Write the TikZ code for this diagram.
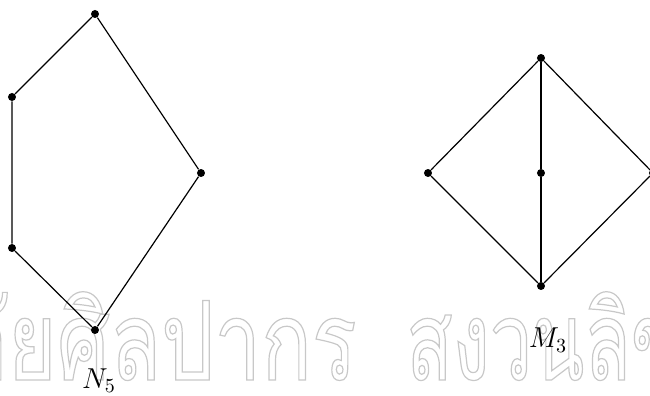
\documentclass[tikz,border=0pt]{standalone}
\usepackage{fontspec}
\newfontfamily\thaiwm[Script=Thai,FakeStretch=0.76]{Loma}
\newfontfamily\thaiwmr[Script=Thai,FakeStretch=0.69]{Loma}
\definecolor{wmgray}{RGB}{200,200,200}
\newcommand{\outlinetext}[1]{\special{pdf:literal direct 1 Tr 0.6 w}#1\special{pdf:literal direct 0 Tr}}
\begin{document}
\begin{tikzpicture}[x=0.5pt,y=-0.5pt,
  dot/.style={circle,fill=black,inner sep=0pt,minimum size=4pt},
  edge/.style={draw=black,line width=0.6pt},
  wm/.style={inner sep=0pt,text=wmgray,font=\thaiwm\fontsize{55}{55}\selectfont},
  wmr/.style={inner sep=0pt,text=wmgray,font=\thaiwmr\fontsize{55}{55}\selectfont},
  lbl/.style={inner sep=0pt,font=\fontsize{14.4}{17}\selectfont}]
\useasboundingbox (0,0) rectangle (650,396);
% watermark
\node[wm,anchor=base east] (wmL) at (357,380) {\outlinetext{มหาวิทยาลัยศิลปากร}};
\node[wmr,anchor=base west] (wmR) at (406,380) {\outlinetext{สงวนลิขสิทธิ์}};
% N5
\node[dot] (nt) at (95,14) {};
\node[dot] (nu) at (12,97) {};
\node[dot] (nl) at (12,248) {};
\node[dot] (nb) at (95,330) {};
\node[dot] (nr) at (201,173) {};
\draw[edge] (nt) -- (nu) -- (nl) -- (nb) -- (nr) -- (nt);
\node[lbl] (n5) at (99,381) {$N_5$};
% M3
\node[dot] (mt) at (541,58) {};
\node[dot] (ml) at (428,173) {};
\node[dot] (mc) at (541,173) {};
\node[dot] (mb) at (541,286) {};
\node[dot] (mr) at (653,173) {};
\draw[edge] (mt) -- (ml) -- (mb) -- (mr) -- (mt);
\draw[edge] (mt) -- (mc) -- (mb);
\node[lbl] (m3) at (548,340) {$M_3$};
\end{tikzpicture}
\end{document}
